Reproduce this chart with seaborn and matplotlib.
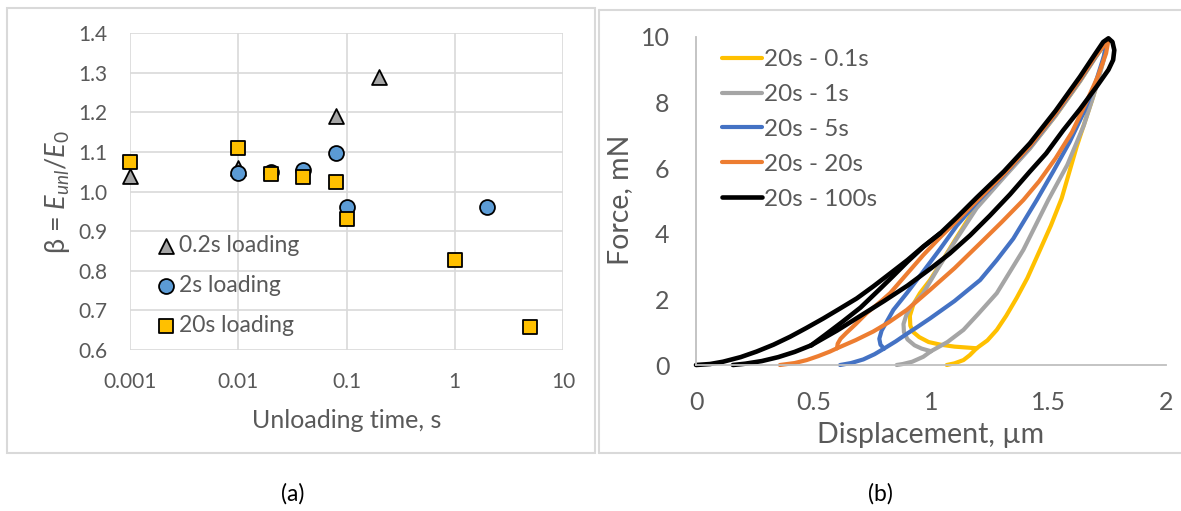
import numpy as np
import pandas as pd
import matplotlib
matplotlib.use("Agg")
import matplotlib.pyplot as plt
import seaborn as sns
from matplotlib.patches import Rectangle
from matplotlib.lines import Line2D

# ---------------- data: panel (a) ----------------
tri_t = [0.001, 0.01, 0.08, 0.2]
tri_b = [1.04, 1.06, 1.19, 1.29]
circ_t = [0.01, 0.02, 0.04, 0.08, 0.1, 2.0]
circ_b = [1.047, 1.05, 1.055, 1.096, 0.962, 0.962]
sq_t = [0.001, 0.01, 0.02, 0.04, 0.08, 0.1, 1.0, 5.0]
sq_b = [1.075, 1.11, 1.044, 1.036, 1.025, 0.93, 0.827, 0.658]
x_ticks_a = [0.001, 0.01, 0.1, 1, 10]
x_ticklabels_a = ["0.001", "0.01", "0.1", "1", "10"]
y_ticks_a = [0.6, 0.7, 0.8, 0.9, 1.0, 1.1, 1.2, 1.3, 1.4]

# ---------------- data: panel (b) ----------------
# yellow 20s - 0.1s
y_unl_d = [1.75, 1.73, 1.69, 1.62, 1.556, 1.51, 1.464, 1.41, 1.365, 1.32, 1.28, 1.24, 1.194]
y_unl_f = [9.9, 9.2, 8.18, 6.66, 5.08, 4.25, 3.51, 2.65, 2.05, 1.5, 1.07, 0.75, 0.51]
y_tail_d = [1.194, 1.165, 1.138, 1.1, 1.067]
y_tail_f = [0.51, 0.3, 0.15, 0.05, 0.0]
y_rel_d = [1.194, 1.1, 1.04, 0.99, 0.95, 0.925, 0.912, 0.91, 0.925, 0.953, 0.996, 1.05, 1.11, 1.194,
           1.31, 1.421, 1.53, 1.634, 1.7, 1.75]
y_rel_f = [0.51, 0.56, 0.62, 0.7, 0.85, 1.0, 1.2, 1.5, 1.85, 2.19, 2.59, 3.2, 3.9, 4.85,
           5.75, 6.62, 7.6, 8.65, 9.38, 9.9]
# gray 20s - 1s
g_unl_d = [1.75, 1.735, 1.7, 1.65, 1.58, 1.499, 1.393, 1.28, 1.2, 1.138, 1.07, 1.0]
g_unl_f = [9.9, 9.3, 8.4, 7.3, 6.1, 5.03, 3.51, 2.19, 1.55, 1.07, 0.7, 0.42]
g_tail_d = [1.0, 0.967, 0.92, 0.88, 0.854]
g_tail_f = [0.42, 0.25, 0.1, 0.03, 0.0]
g_rel_d = [1.0, 0.96, 0.93, 0.9, 0.885, 0.883, 0.895, 0.915, 0.967, 1.03, 1.1, 1.194,
           1.31, 1.421, 1.53, 1.634, 1.7, 1.75]
g_rel_f = [0.42, 0.5, 0.6, 0.78, 1.0, 1.25, 1.52, 1.78, 2.19, 2.95, 3.75, 4.78,
           5.72, 6.6, 7.6, 8.65, 9.38, 9.9]
# blue 20s - 5s
b_unl_d = [1.75, 1.735, 1.7, 1.65, 1.59, 1.52, 1.45, 1.35, 1.28, 1.209, 1.1, 0.996, 0.94, 0.897, 0.85, 0.8]
b_unl_f = [9.9, 9.4, 8.6, 7.7, 6.8, 5.9, 5.03, 3.85, 3.2, 2.59, 1.95, 1.42, 1.15, 0.95, 0.72, 0.5]
b_tail_d = [0.8, 0.76, 0.712, 0.66, 0.613]
b_tail_f = [0.5, 0.33, 0.17, 0.06, 0.0]
b_rel_d = [0.8, 0.785, 0.78, 0.79, 0.81, 0.84, 0.897, 0.967, 1.04, 1.11, 1.194, 1.31, 1.421, 1.53,
           1.634, 1.7, 1.75]
b_rel_f = [0.5, 0.62, 0.8, 1.05, 1.3, 1.68, 2.19, 2.85, 3.55, 4.25, 4.95, 5.8, 6.66, 7.65,
           8.69, 9.4, 9.9]
# orange 20s - 20s
o_unl_d = [1.755, 1.745, 1.71, 1.66, 1.6, 1.53, 1.46, 1.393, 1.3, 1.209, 1.1, 0.996, 0.897, 0.82, 0.754, 0.68, 0.6]
o_unl_f = [9.9, 9.5, 8.8, 8.0, 7.1, 6.3, 5.6, 5.03, 4.35, 3.71, 2.95, 2.29, 1.68, 1.3, 1.02, 0.76, 0.51]
o_tail_d = [0.6, 0.57, 0.52, 0.471, 0.42, 0.357]
o_tail_f = [0.51, 0.41, 0.27, 0.15, 0.06, 0.0]
o_rel_d = [0.6, 0.603, 0.615, 0.64, 0.68, 0.726, 0.78, 0.826, 0.9, 0.967, 1.04, 1.11, 1.194, 1.31,
           1.421, 1.53, 1.634, 1.7, 1.755]
o_rel_f = [0.51, 0.65, 0.8, 0.98, 1.25, 1.58, 1.9, 2.19, 2.8, 3.35, 3.9, 4.4, 5.0, 5.82,
           6.68, 7.67, 8.71, 9.42, 9.9]
# black 20s - 100s
k_load_d = [0.0, 0.06, 0.115, 0.19, 0.258, 0.33, 0.4, 0.47, 0.542, 0.61, 0.684, 0.755, 0.826, 0.9, 0.967,
            1.04, 1.11, 1.194, 1.31, 1.421, 1.53, 1.634, 1.7, 1.733, 1.755]
k_load_f = [0.0, 0.03, 0.1, 0.24, 0.41, 0.62, 0.86, 1.13, 1.42, 1.71, 2.03, 2.4, 2.79, 3.2, 3.61,
            4.02, 4.5, 5.1, 5.9, 6.76, 7.75, 8.79, 9.5, 9.85, 9.96]
k_unl_d = [1.755, 1.772, 1.78, 1.775, 1.755, 1.705, 1.634, 1.563, 1.49, 1.421, 1.336, 1.25, 1.166, 1.08,
           1.0, 0.9, 0.8, 0.7, 0.6, 0.49]
k_unl_f = [9.96, 9.85, 9.6, 9.3, 9.0, 8.49, 7.8, 7.16, 6.45, 5.9, 5.2, 4.55, 3.95, 3.4,
           2.95, 2.42, 1.95, 1.5, 1.05, 0.6]
k_tail_d = [0.49, 0.42, 0.35, 0.28, 0.21, 0.157]
k_tail_f = [0.6, 0.4, 0.24, 0.12, 0.04, 0.0]
k_rel_d = [0.49, 0.55, 0.62, 0.7, 0.78, 0.84, 0.9, 0.967, 1.04]
k_rel_f = [0.6, 0.92, 1.3, 1.75, 2.3, 2.72, 3.15, 3.6, 4.02]

series_b = [
    ("20s - 0.1s", "#FFC000", [(y_unl_d, y_unl_f), (y_tail_d, y_tail_f), (y_rel_d, y_rel_f)]),
    ("20s - 1s", "#A5A5A5", [(g_unl_d, g_unl_f), (g_tail_d, g_tail_f), (g_rel_d, g_rel_f)]),
    ("20s - 5s", "#4472C4", [(b_unl_d, b_unl_f), (b_tail_d, b_tail_f), (b_rel_d, b_rel_f)]),
    ("20s - 20s", "#ED7D31", [(o_unl_d, o_unl_f), (o_tail_d, o_tail_f), (o_rel_d, o_rel_f)]),
    ("20s - 100s", "#000000", [(k_load_d + k_unl_d[1:], k_load_f + k_unl_f[1:]), (k_tail_d, k_tail_f), (k_rel_d, k_rel_f)]),
]

# ---------------- style ----------------
sns.set_theme(style="white")
plt.rcParams["font.family"] = ["Lato", "DejaVu Sans"]
plt.rcParams["mathtext.fontset"] = "custom"
plt.rcParams["mathtext.rm"] = "Lato"
plt.rcParams["mathtext.it"] = "Lato:italic"
plt.rcParams["mathtext.bf"] = "Lato:bold"
TXT = "#595959"
W, H = 1181, 511

fig = plt.figure(figsize=(W / 100, H / 100), dpi=100)
fig.patch.set_facecolor("white")

# frames
fig.add_artist(Rectangle((7 / W, 1 - 453 / H), (595 - 7) / W, (453 - 8) / H, transform=fig.transFigure,
                         fill=False, ec="#D9D9D9", lw=1.5))
fig.add_artist(Line2D([599 / W, 1.0], [1 - 10 / H, 1 - 10 / H], transform=fig.transFigure, color="#D9D9D9", lw=1.5))
fig.add_artist(Line2D([599 / W, 1.0], [1 - 453 / H, 1 - 453 / H], transform=fig.transFigure, color="#D9D9D9", lw=1.5))
fig.add_artist(Line2D([599 / W, 599 / W], [1 - 453 / H, 1 - 10 / H], transform=fig.transFigure, color="#D9D9D9", lw=1.5))

# ---------------- panel (a) ----------------
ax1 = fig.add_axes([130 / W, 1 - 350 / H, 433 / W, 317 / H])
ax1.set_xscale("log")
ax1.set_xlim(0.001, 10)
ax1.set_ylim(0.6, 1.4)
ax1.set_xticks(x_ticks_a)
ax1.set_xticklabels(x_ticklabels_a)
ax1.xaxis.set_minor_locator(matplotlib.ticker.NullLocator())
ax1.set_yticks(y_ticks_a)
ax1.set_yticklabels([f"{v:.1f}" for v in y_ticks_a])
ax1.grid(True, color="#D9D9D9", lw=1.2)
ax1.set_axisbelow(True)
for s in ax1.spines.values():
    s.set_visible(False)
ax1.tick_params(length=0, labelsize=15, labelcolor=TXT)
ax1.tick_params(axis="y", pad=16)
ax1.tick_params(axis="x", pad=15.5)

mk = dict(s=115, edgecolor="black", linewidth=1.3, ax=ax1, zorder=3, clip_on=False)
sns.scatterplot(x=tri_t, y=tri_b, marker="^", color="#A5A5A5", label="0.2s loading", **mk)
sns.scatterplot(x=circ_t, y=circ_b, marker="o", color="#5B9BD5", label="2s loading", **mk)
sns.scatterplot(x=sq_t, y=sq_b, marker="s", color="#FFC000", label="20s loading", **mk)
leg1 = ax1.legend(loc="upper left", bbox_to_anchor=(0.06, 0.364), frameon=False, fontsize=16.5,
                  handlelength=0.85, handletextpad=0.15, labelspacing=0.84, borderpad=0, borderaxespad=0)
for t in leg1.get_texts():
    t.set_color(TXT)

ax1.set_xlabel("Unloading time, s", fontsize=18, color=TXT)
ax1.xaxis.set_label_coords(0.5, -(420 - 350) / 317)
ax1.xaxis.label.set_va("center")
ax1.set_ylabel(r"β = $E_{unl}$/$E_{0}$", fontsize=19.5, color=TXT)
ax1.yaxis.set_label_coords(-(130 - 58) / 433, (350 - 192) / 317)
ax1.yaxis.label.set_va("center")

# ---------------- panel (b) ----------------
ax2 = fig.add_axes([696 / W, 1 - 365 / H, 470 / W, 328 / H])
ax2.set_xlim(0, 2)
ax2.set_ylim(0, 10)
ax2.set_xticks([0, 0.5, 1, 1.5, 2])
ax2.set_xticklabels(["0", "0.5", "1", "1.5", "2"])
ax2.set_yticks([0, 2, 4, 6, 8, 10])
for side in ["top", "right"]:
    ax2.spines[side].set_visible(False)
for side in ["left", "bottom"]:
    ax2.spines[side].set_color("#BFBFBF")
    ax2.spines[side].set_linewidth(1.3)
ax2.tick_params(length=0, labelsize=18, labelcolor=TXT)
ax2.tick_params(axis="y", pad=19)
ax2.tick_params(axis="x", pad=18.5)

for name, col, segs in series_b:
    lw = 3.3 if col == "#000000" else 3.0
    for i, (dd, ff) in enumerate(segs):
        sns.lineplot(x=dd, y=ff, sort=False, estimator=None, color=col, lw=lw, ax=ax2,
                     label=name if i == 0 else None, legend=False,
                     solid_capstyle="round", solid_joinstyle="round", clip_on=False)

handles, labels = ax2.get_legend_handles_labels()
leg2 = ax2.legend(handles, labels, loc="upper left", bbox_to_anchor=(0.055, 0.963), frameon=False,
                  fontsize=17.5, handlelength=1.65, handletextpad=0.1, labelspacing=0.57,
                  borderpad=0, borderaxespad=0)
for t in leg2.get_texts():
    t.set_color(TXT)

ax2.set_xlabel("Displacement, µm", fontsize=20.5, color=TXT)
ax2.xaxis.set_label_coords(0.5, -(435 - 365) / 328)
ax2.xaxis.label.set_va("center")
ax2.set_ylabel("Force, mN", fontsize=20.5, color=TXT)
ax2.yaxis.set_label_coords(-(696 - 620) / 470, (365 - 200) / 328)
ax2.yaxis.label.set_va("center")

fig.text(293 / W, 1 - 494 / H, "(a)", ha="center", va="center", fontsize=16.5, color="black")
fig.text(880 / W, 1 - 494 / H, "(b)", ha="center", va="center", fontsize=16.5, color="black")

fig.savefig("out.png", dpi=100)
